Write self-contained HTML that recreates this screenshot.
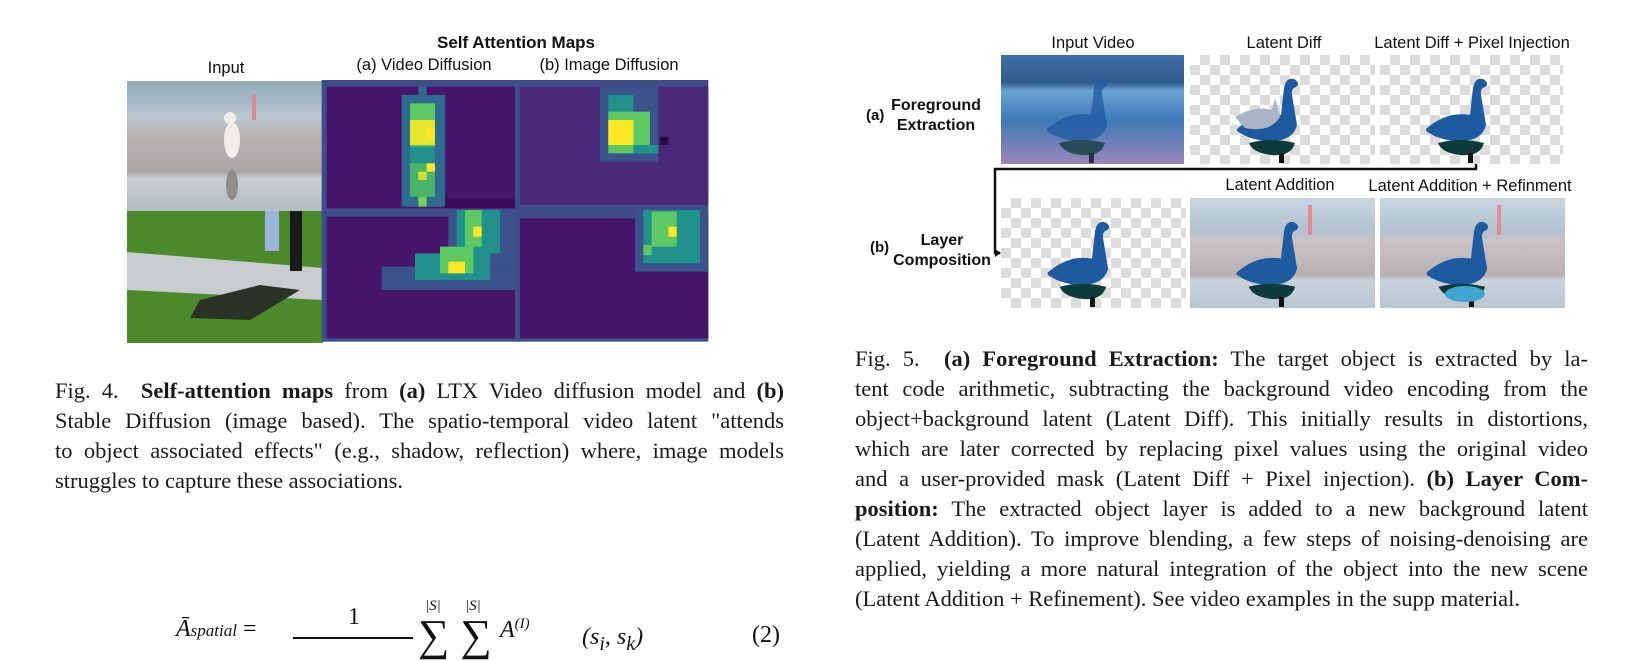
<!DOCTYPE html>
<html><head><meta charset="utf-8"><style>
html,body{margin:0;padding:0;background:#fff;}
body{width:1634px;height:641px;position:relative;overflow:hidden;font-family:"Liberation Sans",sans-serif;color:#111;}
.a{position:absolute;white-space:nowrap;}
.lab{font-size:16.5px;transform:translateX(-50%);}
.b{font-weight:bold;}
.cap{position:absolute;font-family:"Liberation Serif",serif;font-size:22.5px;line-height:30px;color:#1a1a1a;}
.cap div{text-align:justify;text-align-last:justify;white-space:nowrap;}
.cap div.l{text-align-last:left;}
.chk{position:absolute;background-color:#fff;background-image:conic-gradient(#dcdcdc 25%,#fff 0 50%,#dcdcdc 0 75%,#fff 0);background-size:20px 20px;}
</style></head><body>

<!-- LEFT FIGURE -->
<div class="a lab b" style="left:516px;top:33px;font-size:17px;">Self Attention Maps</div>
<div class="a lab" style="left:226px;top:59px;">Input</div>
<div class="a lab" style="left:424px;top:56px;">(a) Video Diffusion</div>
<div class="a lab" style="left:609px;top:56px;">(b) Image Diffusion</div>

<svg class="a" style="left:0;top:0" width="820" height="360">
  <defs>
    <linearGradient id="cat" x1="0" y1="0" x2="0" y2="1">
      <stop offset="0" stop-color="#8fa9b8"/><stop offset="0.28" stop-color="#b9c7cf"/>
      <stop offset="0.4" stop-color="#b8b4b2"/><stop offset="0.7" stop-color="#a9a7a6"/>
      <stop offset="0.75" stop-color="#c7cdd2"/><stop offset="1" stop-color="#b5bcc3"/>
    </linearGradient>
  </defs>
  <rect x="127" y="81" width="196" height="130" fill="url(#cat)"/>
  <ellipse cx="232" cy="140" rx="8" ry="18" fill="#f1eeea"/>
  <circle cx="230" cy="118" r="6" fill="#f1eeea"/>
  <ellipse cx="232" cy="185" rx="6" ry="15" fill="#8d8c8a"/>
  <rect x="252" y="95" width="4" height="25" fill="#d98a8f"/>
  <rect x="127" y="211" width="196" height="132" fill="#4c8a2c"/>
  <polygon points="127,252 323,268 323,300 127,290" fill="#c9ccce"/>
  <polygon points="200,300 260,285 300,290 250,320 190,318" fill="#2a3326"/>
  <rect x="290" y="211" width="12" height="60" fill="#1b1b1b"/>
  <rect x="265" y="211" width="14" height="40" fill="#9ab3d8"/>

  <g transform="translate(320,80) scale(0.33333)">
    <rect x="5" y="0" width="1160" height="785" fill="#3e4c89"/>
    <rect x="20" y="20" width="565" height="365" fill="#46156c"/>
    <rect x="375" y="355" width="210" height="30" fill="#3d0c5c"/>
    <rect x="245" y="45" width="130" height="335" fill="#2f6b8e"/>
    <rect x="295" y="20" width="25" height="25" fill="#31688e"/>
    <rect x="270" y="70" width="75" height="130" fill="#5ec962"/>
    <rect x="270" y="120" width="75" height="75" fill="#e8e52e"/>
    <rect x="320" y="145" width="25" height="30" fill="#fde725"/>
    <rect x="270" y="200" width="75" height="50" fill="#21918c"/>
    <rect x="270" y="250" width="75" height="100" fill="#47b46a"/>
    <rect x="320" y="250" width="25" height="25" fill="#fde725"/>
    <rect x="295" y="275" width="25" height="25" fill="#d8e22e"/>
    <rect x="295" y="350" width="25" height="30" fill="#7ad151"/>
    <rect x="600" y="20" width="565" height="355" fill="#482a78"/>
    <rect x="840" y="20" width="175" height="225" fill="#3b528b"/>
    <rect x="865" y="45" width="75" height="175" fill="#21918c"/>
    <rect x="865" y="95" width="125" height="125" fill="#5ec962"/>
    <rect x="865" y="120" width="75" height="75" fill="#fde725"/>
    <rect x="940" y="195" width="75" height="25" fill="#21918c"/>
    <rect x="1020" y="170" width="25" height="25" fill="#2a0a40"/>
    <rect x="20" y="410" width="565" height="365" fill="#46156c"/>
    <rect x="385" y="390" width="200" height="140" fill="#3b528b"/>
    <rect x="285" y="520" width="300" height="40" fill="#3b528b"/>
    <rect x="185" y="560" width="400" height="70" fill="#3b528b"/>
    <rect x="410" y="390" width="130" height="130" fill="#21918c"/>
    <rect x="285" y="520" width="225" height="80" fill="#21918c"/>
    <rect x="435" y="390" width="50" height="110" fill="#5ec962"/>
    <rect x="360" y="500" width="100" height="80" fill="#5ec962"/>
    <rect x="385" y="545" width="50" height="35" fill="#fde725"/>
    <rect x="460" y="440" width="25" height="30" fill="#fde725"/>
    <rect x="600" y="415" width="565" height="360" fill="#46156c"/>
    <rect x="945" y="390" width="220" height="185" fill="#3b528b"/>
    <rect x="970" y="390" width="170" height="160" fill="#21918c"/>
    <rect x="995" y="395" width="75" height="105" fill="#5ec962"/>
    <rect x="1045" y="440" width="25" height="30" fill="#fde725"/>
    <rect x="970" y="495" width="25" height="30" fill="#5ec962"/>
  </g>
</svg>

<div class="cap" style="left:55px;top:376px;width:729px;">
<div>Fig. 4.&nbsp; <b>Self-attention maps</b> from <b>(a)</b> LTX Video diffusion model and <b>(b)</b></div>
<div>Stable Diffusion (image based). The spatio-temporal video latent "attends</div>
<div>to object associated effects" (e.g., shadow, reflection) where, image models</div>
<div class="l">struggles to capture these associations.</div>
</div>

<!-- equation -->
<div class="a" style="left:176px;top:616px;font-family:'Liberation Serif',serif;font-size:24px;font-style:italic;">Ā<span style="font-size:17px;">spatial</span> <span style="font-style:normal">=</span></div>
<div class="a" style="left:348px;top:604px;font-family:'Liberation Serif',serif;font-size:24px;">1</div>
<div class="a" style="left:293px;top:637px;width:120px;height:2px;background:#111;"></div>
<div class="a" style="left:425px;top:598px;font-family:'Liberation Serif',serif;font-size:15px;font-style:italic;">|S|</div>
<div class="a" style="left:465px;top:598px;font-family:'Liberation Serif',serif;font-size:15px;font-style:italic;">|S|</div>
<div class="a" style="left:418px;top:610px;font-family:'Liberation Serif',serif;font-size:44px;">∑ ∑</div>
<div class="a" style="left:500px;top:616px;font-family:'Liberation Serif',serif;font-size:24px;font-style:italic;">A<sup style="font-size:15px;">(I)</sup></div>
<div class="a" style="left:582px;top:624px;font-family:'Liberation Serif',serif;font-size:24px;font-style:italic;">(s<sub>i</sub>, s<sub>k</sub>)</div>
<div class="a" style="left:752px;top:622px;font-family:'Liberation Serif',serif;font-size:24px;">(2)</div>

<!-- RIGHT FIGURE -->
<div class="a lab" style="left:1093px;top:34px;">Input Video</div>
<div class="a lab" style="left:1284px;top:34px;">Latent Diff</div>
<div class="a lab" style="left:1472px;top:34px;">Latent Diff + Pixel Injection</div>
<div class="a" style="left:866px;top:107px;font-size:15px;font-weight:bold;">(a)</div>
<div class="a lab b" style="left:936px;top:97px;font-size:16px;">Foreground</div>
<div class="a lab b" style="left:936px;top:117px;font-size:16px;">Extraction</div>
<div class="a lab" style="left:1280px;top:176px;">Latent Addition</div>
<div class="a lab" style="left:1470px;top:177px;">Latent Addition + Refinment</div>
<div class="a" style="left:870px;top:239px;font-size:15px;font-weight:bold;">(b)</div>
<div class="a lab b" style="left:942px;top:232px;font-size:16px;">Layer</div>
<div class="a lab b" style="left:942px;top:252px;font-size:16px;">Composition</div>

<div class="chk" style="left:1190px;top:55px;width:185px;height:109px;"></div>
<div class="chk" style="left:1380px;top:55px;width:183px;height:109px;"></div>
<div class="chk" style="left:1001px;top:198px;width:185px;height:110px;"></div>

<svg class="a" style="left:0;top:0" width="1634" height="330">
  <defs>
    <linearGradient id="lake" x1="0" y1="0" x2="0" y2="1">
      <stop offset="0" stop-color="#3f6fa7"/><stop offset="0.25" stop-color="#2e5d8e"/>
      <stop offset="0.33" stop-color="#6aa3d3"/><stop offset="0.6" stop-color="#3f79b8"/>
      <stop offset="1" stop-color="#9a86b8"/>
    </linearGradient>
    <linearGradient id="pave" x1="0" y1="0" x2="0" y2="1">
      <stop offset="0" stop-color="#c7d6e0"/><stop offset="0.3" stop-color="#b2c2cd"/>
      <stop offset="0.4" stop-color="#c9c2c4"/><stop offset="0.7" stop-color="#b8b1b3"/>
      <stop offset="0.75" stop-color="#c9d3dc"/><stop offset="1" stop-color="#b8c6d2"/>
    </linearGradient>
    <symbol id="sw" viewBox="0 0 183 109">
      <path d="M46,74 Q66,56 90,60 L93,33 Q95,22 103,24 Q110,28 105,32 Q100,33 101,40 L106,70 Q102,86 80,86 Q60,86 46,76 Z" fill="#1e5aa0"/>
      <path d="M58,88 Q80,82 104,88 Q100,102 80,100 Q62,98 58,88 Z" fill="#0e3a3a"/>
      <rect x="88" y="98" width="5" height="10" fill="#111"/>
    </symbol>
  </defs>
  <rect x="1001" y="55" width="183" height="109" fill="url(#lake)"/>
  <use href="#sw" x="1001" y="55" width="183" height="109" opacity="0.75"/>
  <use href="#sw" x="1190" y="55" width="185" height="109"/>
  <use href="#sw" x="1380" y="55" width="183" height="109"/>
  <path d="M1235,117 Q1255,105 1272,110 L1275,98 L1280,117 Q1270,133 1245,128 Z" fill="#a9b4c4"/>
  <rect x="1190" y="198" width="185" height="110" fill="url(#pave)"/>
  <rect x="1380" y="198" width="185" height="110" fill="url(#pave)"/>
  <use href="#sw" x="1001" y="198" width="185" height="110"/>
  <use href="#sw" x="1190" y="198" width="185" height="110"/>
  <use href="#sw" x="1380" y="198" width="185" height="110"/>
  <ellipse cx="1465" cy="294" rx="20" ry="8" fill="#3fa6cf"/>
  <rect x="1308" y="205" width="4" height="30" fill="#e58a94"/>
  <rect x="1497" y="205" width="4" height="30" fill="#e58a94"/>
  <path d="M1476,164 V169 H995 V253 H1000" fill="none" stroke="#111" stroke-width="2.5"/>
  <polygon points="1001,253 995,249 995,257" fill="#111"/>
</svg>

<div class="cap" style="left:855px;top:344px;width:733px;">
<div>Fig. 5.&nbsp; <b>(a) Foreground Extraction:</b> The target object is extracted by la-</div>
<div>tent code arithmetic, subtracting the background video encoding from the</div>
<div>object+background latent (Latent Diff). This initially results in distortions,</div>
<div>which are later corrected by replacing pixel values using the original video</div>
<div>and a user-provided mask (Latent Diff + Pixel injection). <b>(b) Layer Com-</b></div>
<div><b>position:</b> The extracted object layer is added to a new background latent</div>
<div>(Latent Addition). To improve blending, a few steps of noising-denoising are</div>
<div>applied, yielding a more natural integration of the object into the new scene</div>
<div class="l">(Latent Addition + Refinement). See video examples in the supp material.</div>
</div>

</body></html>
